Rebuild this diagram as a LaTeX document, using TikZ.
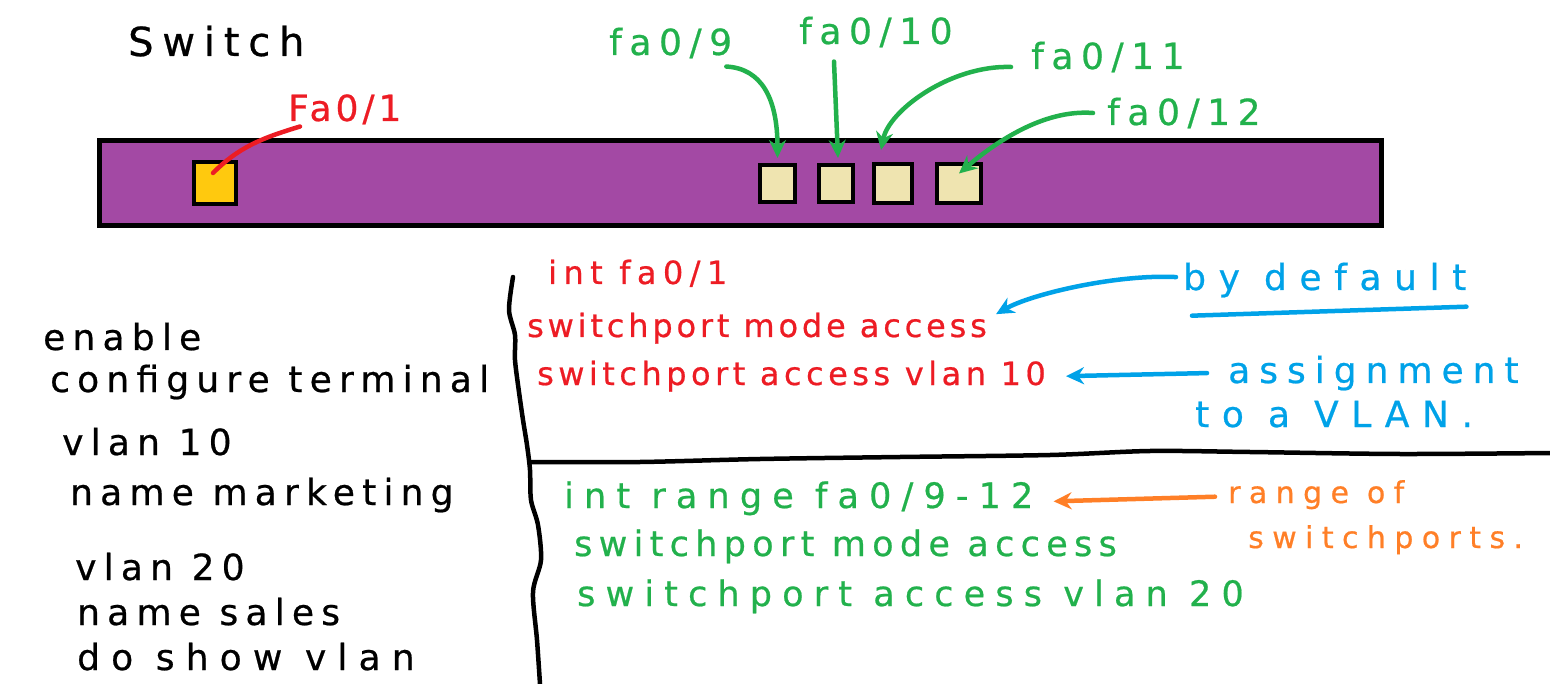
\documentclass[tikz,border=0pt]{standalone}
\usepackage{fontspec}
\usepackage{tikz}
\usetikzlibrary{arrows.meta}
\newfontfamily\hand[FakeBold=0.6]{DejaVu Sans}
\definecolor{ink}{HTML}{000000}
\definecolor{chassis}{HTML}{A349A4}
\definecolor{usedport}{HTML}{FFC90E}
\definecolor{freeport}{HTML}{EFE4B0}
\definecolor{cmdred}{HTML}{ED1C24}
\definecolor{cmdgreen}{HTML}{22B14C}
\definecolor{noteblue}{HTML}{00A2E8}
\definecolor{noteorange}{HTML}{FF7F27}
\newcommand{\handsize}[2]{\hand\fontsize{#1}{#1}\selectfont\addfontfeatures{LetterSpace=#2}}
\tikzset{
  >=Stealth,
  portbox/.style={draw=ink,line width=4pt,inner sep=0pt},
  cmd/.style={anchor=base west,inner sep=0pt},
  blackcmd/.style={cmd,text=ink,font=\handsize{36}{20}},
  redcmd/.style={cmd,text=cmdred,font=\handsize{32}{12}},
  greencmd/.style={cmd,text=cmdgreen,font=\handsize{35}{29}},
  bluenote/.style={cmd,text=noteblue,font=\handsize{36}{35}},
  orangenote/.style={cmd,text=noteorange,font=\handsize{30}{28}},
  portlabel/.style={cmd,text=cmdgreen,font=\handsize{36}{21}},
  pen/.style={line width=4.5pt,line cap=round,line join=round},
  arrow/.style={pen,-{Stealth[length=18pt,width=17pt]}},
  divider/.style={draw=ink,line width=4.5pt,line cap=round,line join=round}
}
\begin{document}
\begin{tikzpicture}[x=1pt,y=-1pt]
  \fill[white] (0,0) rectangle (1550,684);
  \useasboundingbox (0,0) rectangle (1550,684);

  % Switch chassis and ports
  \node[cmd,text=ink,font=\handsize{40}{22}] (title) at (128,56) {Switch};
  \draw[draw=ink,fill=chassis,line width=5pt] (99.5,140.5) rectangle (1381.5,225.5);
  \node[portbox,fill=usedport,minimum width=42pt,minimum height=42pt] (p1) at (215,183) {};
  \node[portbox,fill=freeport,minimum width=35pt,minimum height=37pt] (p9) at (777.5,183.5) {};
  \node[portbox,fill=freeport,minimum width=34pt,minimum height=37pt] (p10) at (836,183.5) {};
  \node[portbox,fill=freeport,minimum width=38pt,minimum height=39pt] (p11) at (893,183.5) {};
  \node[portbox,fill=freeport,minimum width=44pt,minimum height=39pt] (p12) at (959,183.5) {};

  % Port labels
  \node[portlabel,text=cmdred,execute at begin node=\addfontfeatures{LetterSpace=11}] (l1) at (288,121) {Fa0/1};
  \node[portlabel] (l9) at (609,55) {fa0/9};
  \node[portlabel] (l10) at (799,44) {fa0/10};
  \node[portlabel] (l11) at (1031,69) {fa0/11};
  \node[portlabel] (l12) at (1107,125) {fa0/12};

  \draw[pen,draw=cmdred] ([shift={(12pt,-2pt)}]l1.south west)
    .. controls +(-40pt,-12pt) and +(25pt,25pt) .. ([shift={(-2pt,10pt)}]p1.center);
  \draw[arrow,draw=cmdgreen] ([shift={(-6pt,-8pt)}]l9.south east)
    .. controls +(35pt,-2pt) and +(0pt,60pt) .. ([yshift=5pt]p9.north);
  \draw[arrow,draw=cmdgreen] ([shift={(35pt,-14pt)}]l10.south west) -- ([shift={(2pt,5pt)}]p10.north);
  \draw[arrow,draw=cmdgreen] ([shift={(-20pt,-10pt)}]l11.west)
    .. controls +(-60pt,2pt) and +(8pt,40pt) .. ([shift={(-12pt,12pt)}]p11.north);
  \draw[arrow,draw=cmdgreen] ([xshift=-14pt]l12.west)
    .. controls +(-50pt,4pt) and +(35pt,30pt) .. ([yshift=10pt]p12.center);

  % Dividers
  \draw[divider] plot[smooth] coordinates {(513,277) (509,310) (515,335) (515,360) (519,392)
    (523,420) (527,445) (530,470) (531,500) (538,525) (541,560) (533,592) (537,640) (540,684)};
  \draw[divider] plot[smooth] coordinates {(530,462) (640,462) (760,459) (900,457) (1050,455)
    (1150,451) (1250,452) (1400,454) (1550,453)};

  % Global configuration
  \node[blackcmd] (en) at (43,350) {enable};
  \node[blackcmd] (conf) at (50,392) {configure terminal};
  \node[blackcmd] (v10) at (62,455) {vlan 10};
  \node[blackcmd] (n10) at (70,505) {name marketing};
  \node[blackcmd] (v20) at (75,580) {vlan 20};
  \node[blackcmd] (n20) at (77,625) {name sales};
  \node[blackcmd,execute at begin node=\addfontfeatures{LetterSpace=31}] (show) at (77,670) {do show vlan};

  % Single port
  \node[redcmd,execute at begin node=\addfontfeatures{LetterSpace=20}] (rint) at (548,284) {int fa0/1};
  \node[redcmd] (rmode) at (527,337) {switchport mode access};
  \node[redcmd,execute at begin node=\addfontfeatures{LetterSpace=14}] (rvlan) at (537,385) {switchport access vlan 10};

  \node[bluenote] (bydef) at (1183,290) {by default};
  \node[bluenote,execute at begin node=\addfontfeatures{LetterSpace=25}] (assign) at (1228,383) {assignment};
  \node[bluenote] (tovlan) at (1195,427) {to a VLAN.};
  \draw[pen,draw=noteblue] ([shift={(9pt,-18pt)}]bydef.south west) -- ([shift={(0pt,-9pt)}]bydef.south east);
  \draw[arrow,draw=noteblue] ([shift={(-7pt,3pt)}]bydef.west)
    .. controls +(-60pt,3pt) and +(35pt,20pt) .. ([shift={(9pt,14pt)}]rmode.east);
  \draw[arrow,draw=noteblue] ([xshift=-21pt]assign.west) -- ([xshift=20pt]rvlan.east);

  % Port range
  \node[greencmd] (grange) at (564,508) {int range fa0/9-12};
  \node[greencmd,execute at begin node=\addfontfeatures{LetterSpace=18}] (gmode) at (574,556) {switchport mode access};
  \node[greencmd] (gvlan) at (577,606) {switchport access vlan 20};

  \node[orangenote] (rng) at (1228,503) {range of};
  \node[orangenote] (swp) at (1248,548) {switchports.};
  \draw[arrow,draw=noteorange] ([shift={(-13pt,-2pt)}]rng.west) -- ([shift={(20pt,-3pt)}]grange.east);
\end{tikzpicture}
\end{document}
